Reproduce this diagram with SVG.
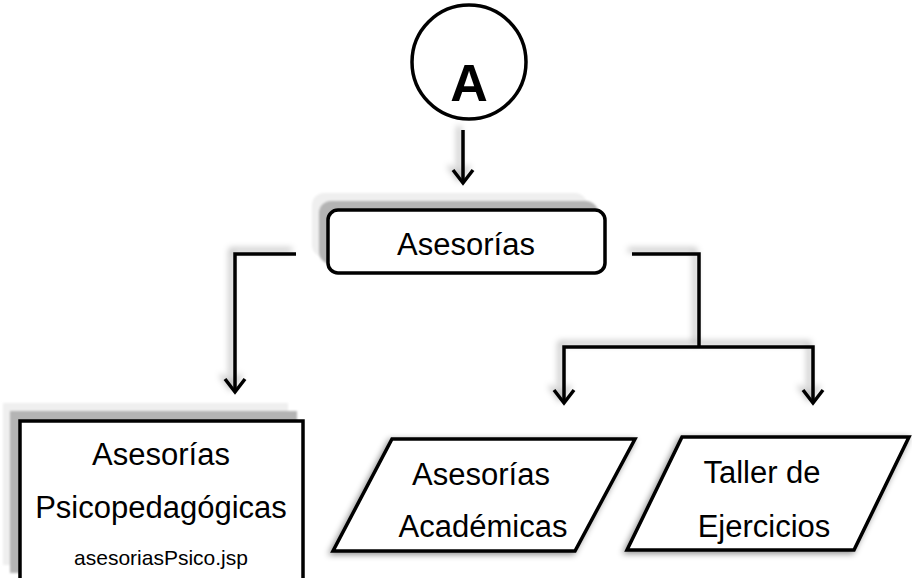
<svg xmlns="http://www.w3.org/2000/svg" width="912" height="578" viewBox="0 0 912 578">
<style>
.t{font-family:"Liberation Sans",Arial,sans-serif;fill:#000;text-anchor:middle}
.big{font-size:31px}
.sm{font-size:21px}
.edge{fill:none;stroke:#000;stroke-width:3.5;marker-end:url(#arr);filter:url(#ls)}
.seg{fill:none;stroke:#000;stroke-width:3.5;filter:url(#ls)}
.box{fill:#fff;stroke:#000;stroke-width:3.5}
.lg{fill:#efefef;filter:url(#soft)}
.dg{fill:#b4b4b4;filter:url(#soft)}
</style>
<defs>
<marker id="arr" markerUnits="userSpaceOnUse" markerWidth="30" markerHeight="30" refX="0" refY="0" orient="auto" overflow="visible" viewBox="-15 -15 30 30">
<path d="M-13,-10 L0,0 L-13,10" fill="none" stroke="#000" stroke-width="3.5" stroke-linejoin="miter"/>
</marker>
<filter id="ls" filterUnits="userSpaceOnUse" x="0" y="0" width="912" height="578">
<feDropShadow dx="-4" dy="-4" stdDeviation="3" flood-color="#000" flood-opacity="0.3"/>
</filter>
<filter id="ps" filterUnits="userSpaceOnUse" x="0" y="0" width="912" height="578">
<feDropShadow dx="-2" dy="2" stdDeviation="3" flood-color="#000" flood-opacity="0.45"/>
</filter>
<filter id="soft"><feGaussianBlur stdDeviation="0.8"/></filter>
</defs>

<g id="connectors">
<path class="edge" d="M463,130 L463,183"/>
<path class="edge" d="M296,254 L235,254 L235,392"/>
<path class="seg" d="M632,254 L699,254 L699,347"/>
<path class="edge" d="M699,347 L564,347 L564,403"/>
<path class="edge" d="M699,347 L813,347 L813,403"/>
</g>

<g id="nodeA">
<circle cx="469" cy="62" r="57" fill="#fff" stroke="#000" stroke-width="3.5"/>
<text class="t" x="469" y="101" font-size="52" font-weight="bold">A</text>
</g>

<g id="asesorias">
<rect class="lg" x="312" y="193" width="275" height="64" rx="12"/>
<rect class="dg" x="319" y="201" width="279" height="63" rx="12"/>
<rect class="box" x="328" y="210" width="277" height="63" rx="10"/>
<text class="t big" x="466" y="255">Asesorías</text>
</g>

<g id="psico">
<rect class="lg" x="3" y="403" width="285" height="162"/>
<rect class="dg" x="10" y="411" width="287" height="162"/>
<rect class="box" x="20" y="421" width="283" height="165"/>
<text class="t big" x="161" y="465">Asesorías</text>
<text class="t big" x="161" y="518">Psicopedagógicas</text>
<text class="t sm" x="161" y="565">asesoriasPsico.jsp</text>
</g>

<g id="academicas">
<polygon class="box" points="392,439 635,439 575,551 333,551" filter="url(#ps)"/>
<text class="t big" x="481" y="485">Asesorías</text>
<text class="t big" x="483" y="537">Académicas</text>
</g>

<g id="taller">
<polygon class="box" points="682,437 909,437 854,550 627,550" filter="url(#ps)"/>
<text class="t big" x="762" y="483">Taller de</text>
<text class="t big" x="764" y="537">Ejercicios</text>
</g>
</svg>
